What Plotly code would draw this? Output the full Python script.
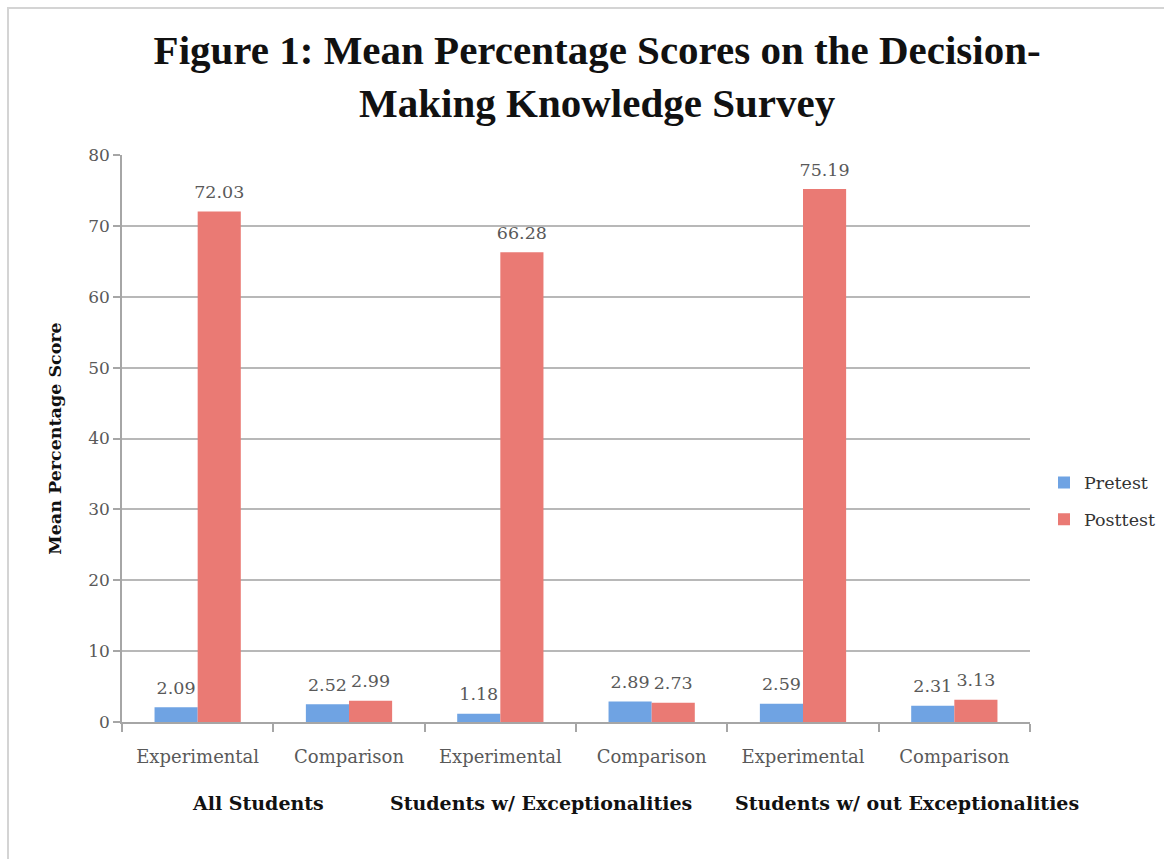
import plotly.graph_objects as go

groups = ["All Students", "Students w/ Exceptionalities", "Students w/ out Exceptionalities"]
conditions = ["Experimental", "Comparison", "Experimental", "Comparison",
              "Experimental", "Comparison"]
group_of = [0, 0, 1, 1, 2, 2]
pretest = [2.09, 2.52, 1.18, 2.89, 2.59, 2.31]
posttest = [72.03, 2.99, 66.28, 2.73, 75.19, 3.13]
y_ticks = [0, 10, 20, 30, 40, 50, 60, 70, 80]

# unique category keys; tick text shows the condition name
cats = [f"{groups[g]} | {c}" for g, c in zip(group_of, conditions)]

SERIF = "DejaVu Serif"
TXT_GRAY = "#595959"

fig = go.Figure()
for name, vals, color in [("Pretest", pretest, "#6fa3e3"), ("Posttest", posttest, "#ea7a74")]:
    fig.add_trace(go.Bar(
        name=name, x=cats, y=vals, legendgroup=name, offsetgroup=name,
        marker=dict(color=color, line=dict(width=0)),
        hoverinfo="x+y",
    ))
    fig.add_trace(go.Scatter(
        x=cats, y=vals, mode="markers+text", offsetgroup=name,
        text=[f"{v:.2f}" for v in vals], textposition="top center",
        marker=dict(size=13, color="rgba(0,0,0,0)"),
        textfont=dict(family=SERIF, size=17.5, color=TXT_GRAY),
        showlegend=False, hoverinfo="skip", cliponaxis=False,
    ))

L, R, T, B = 122, 134, 155, 137
W, H = 1164, 859
pw, ph = W - L - R, H - T - B

group_shift = [-15, -35, 28]
annotations = []
for gi, gname in enumerate(groups):
    idx = [i for i, g in enumerate(group_of) if g == gi]
    annotations.append(dict(
        text=gname, xref="x", x=sum(idx) / len(idx), xshift=group_shift[gi],
        yref="paper", y=-(803 - 722) / ph, yanchor="middle", showarrow=False,
        font=dict(family=SERIF, size=19, color="#111111", weight="bold"),
    ))

fig.update_layout(
    width=W, height=H,
    margin=dict(l=L, r=R, t=T, b=B, autoexpand=False),
    paper_bgcolor="white", plot_bgcolor="white",
    barmode="group", bargap=0.43, bargroupgap=0,
    scattermode="group", scattergap=0.43,
    title=dict(
        text="Figure 1: Mean Percentage Scores on the Decision-<br>Making Knowledge Survey",
        font=dict(family="Liberation Serif", size=41, color="#111111", weight="bold"),
        xref="container", x=0.513, xanchor="center",
        yref="container", y=1 - 64 / H, yanchor="top",
    ),
    legend=dict(
        x=(1044 - L) / pw, xanchor="left", y=(722 - 501) / ph, yanchor="middle",
        font=dict(family=SERIF, size=17.5, color="#333333"),
        itemwidth=30, tracegroupgap=11, bgcolor="rgba(0,0,0,0)",
    ),
    showlegend=True,
    xaxis=dict(
        type="category", categoryorder="array", categoryarray=cats,
        range=[-0.5, len(cats) - 0.5],
        tickvals=cats, ticktext=conditions, tickson="boundaries",
        showline=True, linecolor="#a6a6a6", linewidth=1.5,
        ticks="outside", ticklen=8, tickcolor="#a6a6a6", tickwidth=1.5,
        ticklabelstandoff=18,
        tickfont=dict(family=SERIF, size=18, color=TXT_GRAY),
        showgrid=False,
    ),
    yaxis=dict(
        range=[0, 80], tickvals=y_ticks,
        showline=True, linecolor="#a6a6a6", linewidth=1.5,
        ticks="outside", ticklen=7, tickcolor="#a6a6a6", tickwidth=1.5,
        showgrid=True, gridcolor="#b8b8b8", gridwidth=1.5,
        zeroline=False,
        tickfont=dict(family=SERIF, size=17, color=TXT_GRAY),
        title=dict(text="Mean Percentage Score", standoff=22,
                   font=dict(family=SERIF, size=17.5, color="#111111", weight="bold")),
    ),
    annotations=annotations,
    shapes=[dict(
        type="rect", xref="paper", yref="paper",
        x0=(8 - L) / pw, x1=1.5, y0=-1.0, y1=1 + (T - 8) / ph,
        line=dict(color="#d4d4d4", width=2), fillcolor="rgba(0,0,0,0)", layer="below",
    )],
)

fig.write_html("out.html")
